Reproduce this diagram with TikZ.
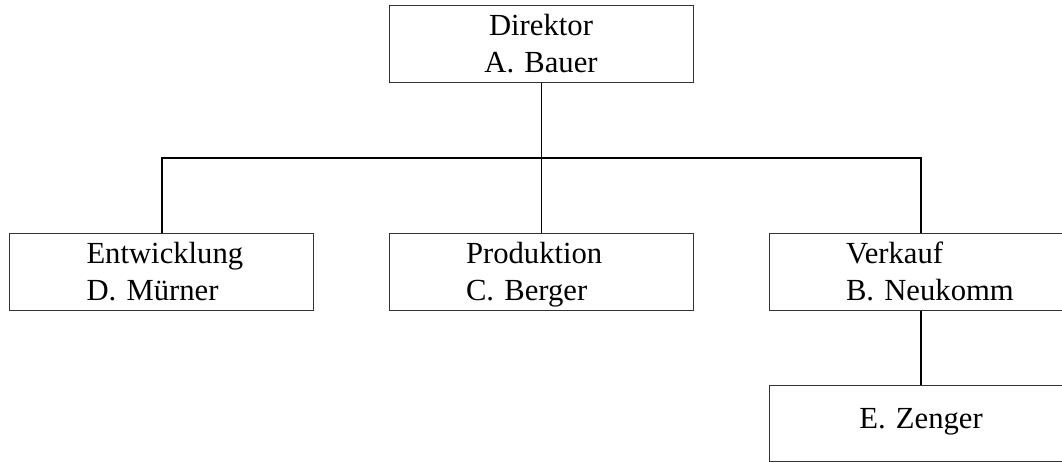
\documentclass[tikz,border=0pt]{standalone}
\usepackage{fontspec}
\setmainfont{Liberation Serif}
\usetikzlibrary{positioning, calc}
\hyphenpenalty=10000
\hbadness=10000
\hfuzz=100pt

\begin{document}
\begin{tikzpicture}[
        x=0.75pt, y=-0.75pt,
        box/.style={draw=black!80, line width=0.75pt, minimum width=228pt,
                    minimum height=57.75pt, inner xsep=0pt, inner ysep=0pt,
                    text width=112.5pt, text height=15.75pt, text depth=27.75pt,
                    font=\fontsize{23pt}{27.75pt}\selectfont},
        unit/.style={box, align=left},
        head/.style={box, align=center},
        thinline/.style={line width=0.75pt},
        busline/.style={line width=1.5pt}
    ]
        \useasboundingbox (0,0) rectangle (1062,461);
        \clip (0,0) rectangle (1062,461);

        % Director on top
        \node[head] (dir) at (541,43.5) {Direktor\\A. Bauer};

        % Three departments
        \node[unit] (ent) at (161.5,271.5) {Entwicklung\\D. Mürner};
        \node[unit] (pro) at (541,271.5) {Produktion\\C. Berger};
        \node[unit] (ver) at (921,271.5) {Verkauf\\B.~Neukomm};

        % Sub unit under Verkauf
        \node[head, minimum height=57pt, text depth=7pt] (zen) at (921,423) {E. Zenger};

        % Connections
        \coordinate (bus) at (541,158);
        \draw[thinline] (dir.south) -- (pro.north);
        \draw[busline] (ent.north) -- (ent.north |- bus) -- (ver.north |- bus) -- (ver.north);
        \draw[busline] (ver.south) -- (zen.north);
    \end{tikzpicture}
\end{document}
